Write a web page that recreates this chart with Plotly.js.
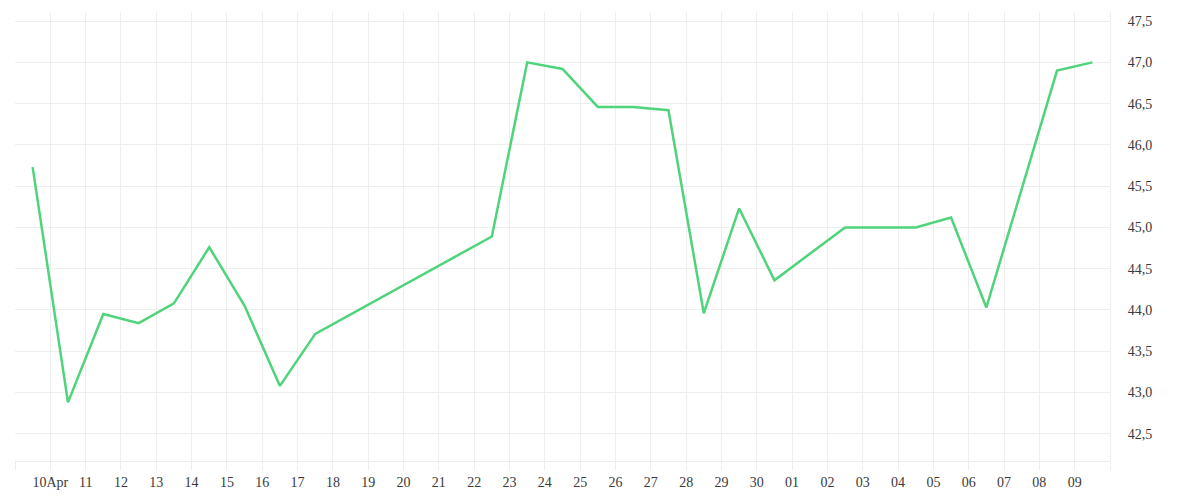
<!DOCTYPE html>
<html>
<head>
<meta charset="utf-8">
<script src="https://cdn.plot.ly/plotly-3.0.1.min.js"></script>
<style>html,body{margin:0;padding:0;background:#fff;}#chart{width:1200px;height:500px;}</style>
</head>
<body>
<div id="chart"></div>
<script>
// Daily values (each drawn at the middle of its day)
const dates = [
  "2024-04-09","2024-04-10","2024-04-11","2024-04-12","2024-04-13","2024-04-14",
  "2024-04-15","2024-04-16","2024-04-17","2024-04-22","2024-04-23","2024-04-24",
  "2024-04-25","2024-04-26","2024-04-27","2024-04-28","2024-04-29","2024-04-30",
  "2024-05-02","2024-05-03","2024-05-04","2024-05-05","2024-05-06","2024-05-08",
  "2024-05-09"
];
const values = [
  45.73, 42.88, 43.95, 43.84, 44.08, 44.76,
  44.05, 43.08, 43.71, 44.89, 47.00, 46.92,
  46.46, 46.46, 46.42, 43.96, 45.23, 44.36,
  45.00, 45.00, 45.00, 45.12, 44.03, 46.90,
  47.00
];
// X-axis ticks (day boundaries) and their labels
const tickDates = [
  "2024-04-09","2024-04-10","2024-04-11","2024-04-12","2024-04-13","2024-04-14","2024-04-15",
  "2024-04-16","2024-04-17","2024-04-18","2024-04-19","2024-04-20","2024-04-21","2024-04-22",
  "2024-04-23","2024-04-24","2024-04-25","2024-04-26","2024-04-27","2024-04-28","2024-04-29",
  "2024-04-30","2024-05-01","2024-05-02","2024-05-03","2024-05-04","2024-05-05","2024-05-06",
  "2024-05-07","2024-05-08","2024-05-09","2024-05-10"
];
const tickLabels = [
  "","10Apr","11","12","13","14","15","16","17","18","19","20","21","22",
  "23","24","25","26","27","28","29","30","01","02","03","04","05","06",
  "07","08","09",""
];
const xRange = ["2024-04-09", "2024-05-10"];
const yRange = [42.17, 47.61];

const gridColor = "#eeeeee";
const textFont = {family: "Liberation Serif, Times New Roman, serif", size: 14, color: "#3a3a3a"};

const trace = {
  type: "scatter",
  mode: "lines",
  x: dates,
  y: values,
  xperiod: 86400000,
  xperiodalignment: "middle",
  line: {color: "#4fd37b", width: 2.5},
  hoverinfo: "x+y"
};

const layout = {
  width: 1200,
  height: 500,
  margin: {l: 15, r: 90, t: 12, b: 39},
  paper_bgcolor: "#ffffff",
  plot_bgcolor: "#ffffff",
  showlegend: false,
  separators: ",.",
  font: textFont,
  xaxis: {
    type: "date",
    range: xRange,
    tickmode: "array",
    tickvals: tickDates,
    ticktext: tickLabels,
    showgrid: true,
    gridcolor: gridColor,
    gridwidth: 1,
    ticks: "outside",
    ticklen: 8,
    tickcolor: gridColor,
    showline: true,
    linecolor: gridColor,
    linewidth: 1,
    zeroline: false,
    tickfont: textFont,
    fixedrange: true
  },
  yaxis: {
    side: "right",
    range: yRange,
    tickmode: "linear",
    tick0: 42.5,
    dtick: 0.5,
    tickformat: ".1f",
    showgrid: true,
    gridcolor: gridColor,
    gridwidth: 1,
    ticks: "",
    ticklabelstandoff: 14,
    showline: true,
    linecolor: gridColor,
    linewidth: 1,
    zeroline: false,
    tickfont: textFont,
    fixedrange: true
  }
};

Plotly.newPlot("chart", [trace], layout, {displayModeBar: false, staticPlot: true});
</script>
</body>
</html>
